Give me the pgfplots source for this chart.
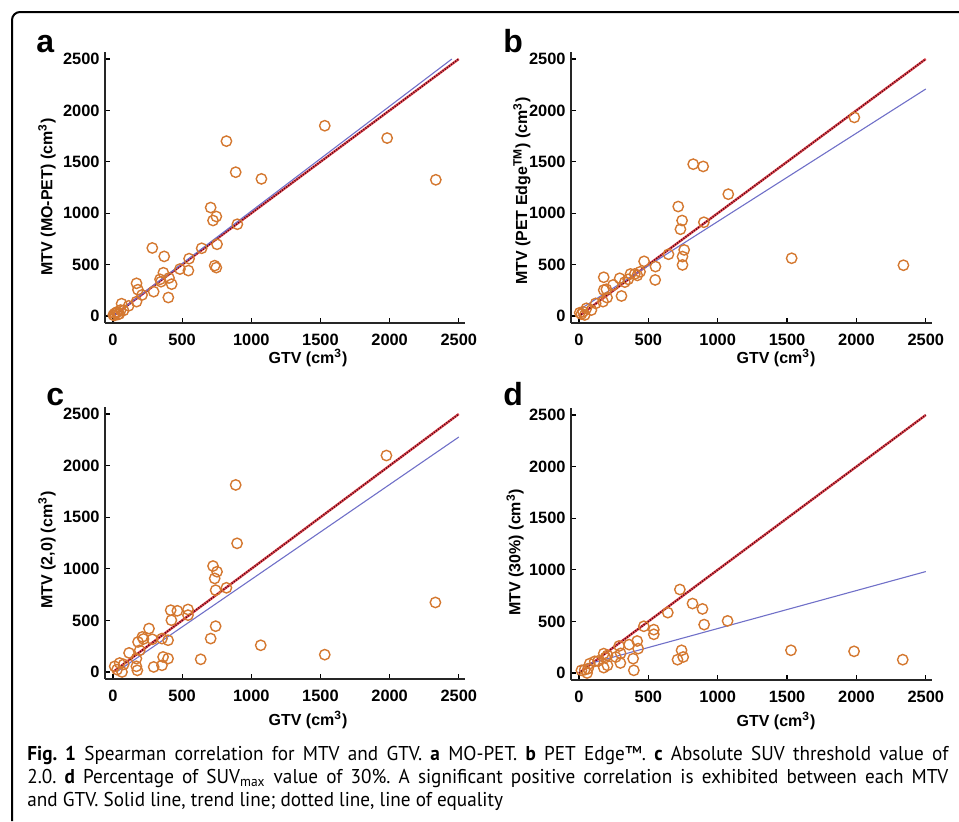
\documentclass[border=0pt]{standalone}
\usepackage{fontspec}
\usepackage{pgfplots}
\pgfplotsset{compat=1.18}
\newfontfamily\axfont{Liberation Sans}
\newfontfamily\capfont[FakeStretch=0.96]{PT Sans}

\definecolor{mk}{RGB}{212,120,48}
\definecolor{eqred}{RGB}{225,70,80}
\definecolor{eqdark}{RGB}{80,5,15}
\definecolor{trend}{RGB}{112,112,200}

% 1 reference pixel = 0.5pt; picture y runs downwards as negative
\pgfplotsset{
  panel/.style={
    width=180pt, height=135.5pt, scale only axis,
    xmin=-58, xmax=2545, ymin=-68, ymax=2568,
    axis x line*=bottom, axis y line*=left,
    xtick={0,500,...,2500}, ytick={0,500,...,2500},
    tick align=inside, major tick length=2.5pt,
    tick style={black, line width=0.6pt},
    axis line style={line width=0.75pt, black!85},
    ticklabel style={font=\axfont\bfseries\fontsize{8.2}{9}\selectfont},
    xticklabel style={yshift=-2pt},
    yticklabel style={xshift=0.8pt},
    /pgf/number format/assume math mode=true,
    /pgf/number format/1000 sep={},
    scaled ticks=false,
    label style={font=\axfont\bfseries\fontsize{8}{9}\selectfont},
    xlabel={GTV (cm\textsuperscript{3})},
    xlabel style={at={(axis description cs:0.564,0)}, anchor=center, yshift=-17.5pt},
    clip=false,
  },
  pts/.style={only marks, mark=o, mark size=2.6pt, mark options={draw=mk, line width=0.7pt}},
  eqa/.style={eqred, line width=1.2pt},
  eqb/.style={eqdark, line width=0.8pt, dash pattern=on 0.5pt off 0.8pt},
  trd/.style={trend, line width=0.55pt},
}

\begin{document}
\begin{tikzpicture}
\useasboundingbox (0pt,0pt) rectangle (479.5pt,-410.5pt);

% frame
\draw[line width=1pt, rounded corners=4pt] (6pt,-410.5pt) -- (6pt,-6pt) -- (479.5pt,-6pt);

% panel a
\begin{axis}[panel, at={(52.5pt,-161.5pt)}, anchor=south west,
  ylabel={MTV (MO-PET) (cm\textsuperscript{3})},
  ylabel style={at={(axis description cs:-0.161,0.465)}, anchor=center}]
\addplot[pts] coordinates {
(1531,1851) (1982,1731) (2334,1325) (820,1701) (887,1399) (1073,1334)
(706,1055) (723,929) (747,968) (899,893) (752,698) (735,490) (747,471)
(641,659) (550,558) (545,442) (484,457) (284,662) (370,580) (364,421)
(340,357) (405,370) (424,310) (400,180) (294,237) (170,318) (180,256)
(170,140) (210,205) (113,99) (62,120) (76,54) (24,32) (13,26) (2,10)
(36,16) (55,58) (347,334) (10,5) (30,40) (45,20)
};
\addplot[eqa] coordinates {(0,0) (2500,2500)};
\addplot[eqb] coordinates {(0,0) (2500,2500)};
\addplot[trd] coordinates {(0,0) (2450,2500)};
\end{axis}

% panel b
\begin{axis}[panel, at={(285.5pt,-161.5pt)}, anchor=south west, width=180.5pt,
  ylabel={MTV (PET Edge\textsuperscript{TM}) (cm\textsuperscript{3})},
  ylabel style={at={(axis description cs:-0.136,0.487)}, anchor=center},
  xlabel style={at={(axis description cs:0.568,0)}}]
\addplot[pts] coordinates {
(1985,1932) (1533,562) (2339,494) (823,1477) (895,1455) (1076,1185)
(715,1065) (743,929) (731,844) (900,912) (758,643) (746,578) (746,497)
(645,601) (551,481) (549,351) (469,532) (371,409) (402,409) (354,357)
(293,367) (306,195) (245,302) (178,377) (178,253) (197,260) (202,179)
(173,140) (120,123) (89,58) (53,75) (29,42) (17,19) (41,10) (5,32)
(420,395) (330,330) (440,430)
};
\addplot[eqa] coordinates {(0,0) (2500,2500)};
\addplot[eqb] coordinates {(0,0) (2500,2500)};
\addplot[trd] coordinates {(0,60) (2500,2208)};
\end{axis}

% panel c
\begin{axis}[panel, at={(52.5pt,-339.5pt)}, anchor=south west, height=136pt,
  ylabel={MTV (2,0) (cm\textsuperscript{3})},
  ylabel style={at={(axis description cs:-0.161,0.474)}, anchor=center},
  xlabel style={yshift=-3pt}]
\addplot[pts] coordinates {
(1977,2098) (887,1813) (897,1247) (2331,674) (1068,259) (1531,168)
(723,1027) (752,972) (735,907) (742,793) (820,816) (742,444) (706,324)
(634,123) (542,606) (542,551) (465,593) (417,599) (422,502) (398,308)
(362,146) (398,130) (354,65) (294,49) (354,324) (284,317) (260,421)
(212,340) (193,210) (181,291) (116,185) (169,130) (169,55) (176,16)
(65,0) (77,74) (48,87) (12,55) (29,23) (220,320)
};
\addplot[eqa] coordinates {(0,0) (2500,2500)};
\addplot[eqb] coordinates {(0,0) (2500,2500)};
\addplot[trd] coordinates {(25,0) (2500,2277)};
\end{axis}

% panel d
\begin{axis}[panel, at={(285.5pt,-340pt)}, anchor=south west, width=180.5pt, height=136pt,
  ylabel={MTV (30\%) (cm\textsuperscript{3})},
  ylabel style={at={(axis description cs:-0.155,0.47)}, anchor=center},
  xlabel style={at={(axis description cs:0.568,0)}, yshift=-3pt}]
\addplot[pts] coordinates {
(727,809) (818,673) (890,621) (902,469) (1071,505) (640,585) (539,420)
(539,375) (467,453) (739,220) (751,155) (710,129) (1528,220) (1983,210)
(2334,129) (419,310) (426,236) (390,139) (395,26) (361,275) (289,262)
(298,97) (265,155) (205,171) (205,74) (178,188) (178,52) (137,116)
(113,113) (77,91) (65,42) (41,32) (17,26) (58,0) (190,150) (300,190)
};
\addplot[eqa] coordinates {(0,0) (2500,2500)};
\addplot[eqb] coordinates {(0,0) (2500,2500)};
\addplot[trd] coordinates {(0,63) (2500,983)};
\end{axis}

% panel letters
\node[anchor=base west, inner sep=0, font=\axfont\bfseries\fontsize{16}{18}\selectfont] at (18pt,-26pt) {a};
\node[anchor=base west, inner sep=0, font=\axfont\bfseries\fontsize{16}{18}\selectfont] at (251.5pt,-26pt) {b};
\node[anchor=base west, inner sep=0, font=\axfont\bfseries\fontsize{16}{18}\selectfont] at (23pt,-202.5pt) {c};
\node[anchor=base west, inner sep=0, font=\axfont\bfseries\fontsize{16}{18}\selectfont] at (251.5pt,-202.5pt) {d};

% caption
\node[anchor=base west, inner sep=0, text width=460.5pt, align=justify,
  font=\capfont\fontsize{10}{11.5}\selectfont\frenchspacing] at (13.5pt,-380pt)
{\textbf{Fig. 1} Spearman correlation for MTV and GTV. \textbf{a} MO-PET. \textbf{b} PET Edge™. \textbf{c} Absolute SUV threshold value of\linebreak
2.0. \textbf{d} Percentage of SUV\textsubscript{max} value of 30\%. A significant positive correlation is exhibited between each MTV\linebreak
and GTV. Solid line, trend line; dotted line, line of equality};
\end{tikzpicture}
\end{document}
